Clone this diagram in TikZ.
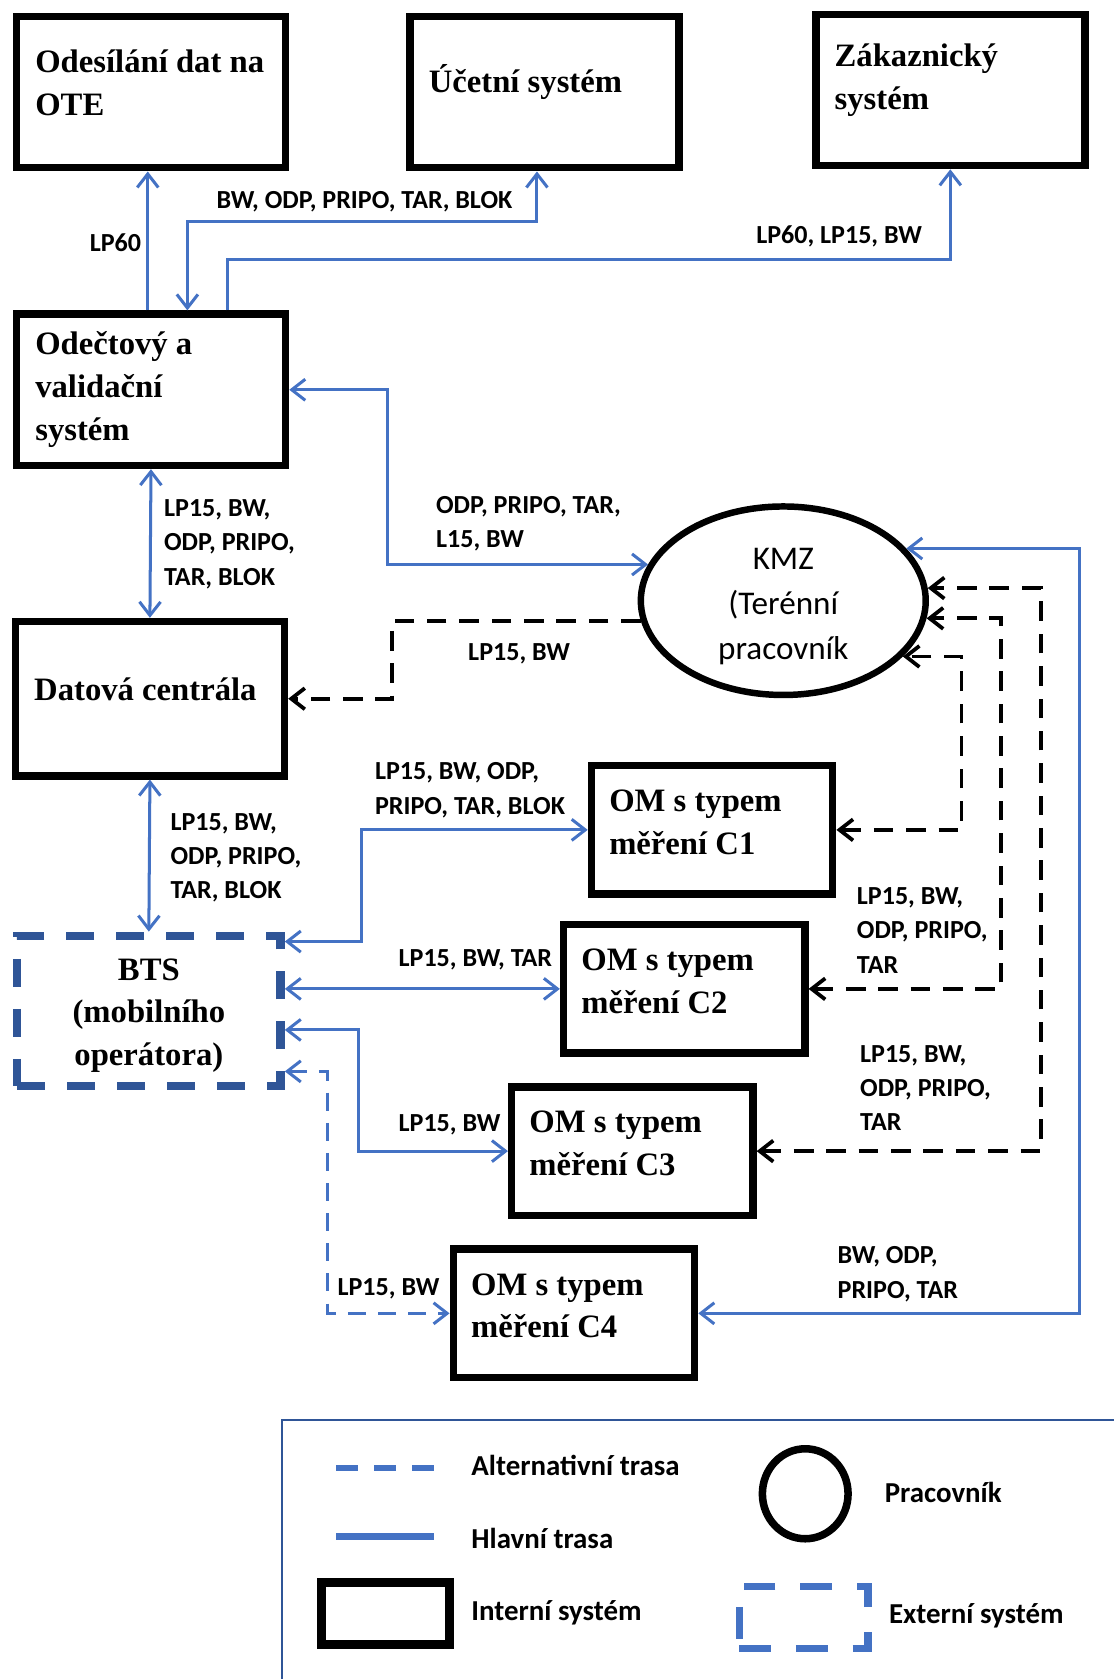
\documentclass[tikz,border=0pt]{standalone}
\usepackage{fontspec}
\setmainfont{Liberation Serif}
\newfontfamily\lblfont{Carlito}
\usepackage{tikz}
\usetikzlibrary{shapes.geometric,arrows.meta}
\definecolor{mainblue}{HTML}{4472C4}
\definecolor{extblue}{HTML}{2F5597}
\newcommand{\boxkern}[1]{\endgraf\kern#1\relax}
\newcommand{\topgap}[1]{\rule{0pt}{#1}}

\begin{document}
\begin{tikzpicture}[x=0.025cm,y=-0.025cm,
    >={Straight Barb[length=9pt,width=14pt]},
    sysbox/.style={draw,line width=5pt,align=flush left,inner xsep=0pt,
      font=\bfseries\fontsize{21.7pt}{28.5pt}\selectfont,
      execute at end node={\boxkern{#1}}},
    sysbox/.default=0.45cm,
    big/.style={minimum width=6.28cm,minimum height=3.53cm,text width=5.4cm},
    om/.style={minimum width=5.63cm,minimum height=3cm,text width=4.8cm},
    main/.style={draw=mainblue,line width=2pt},
    alt/.style={main,dash pattern=on 12pt off 8pt},
    field/.style={draw=black,line width=2.5pt,dash pattern=on 13pt off 8.5pt},
    lbl/.style={inner sep=0pt,anchor=west,align=left,
      font=\lblfont\bfseries\fontsize{17.3pt}{22.8pt}\selectfont},
    keytxt/.style={inner sep=0pt,anchor=west,
      font=\lblfont\bfseries\fontsize{19.2pt}{23pt}\selectfont}]
  \useasboundingbox (0,0) rectangle (1040,1568);

  % systems
  \node[sysbox,big] (ote) at (141,86) {Odesílání~dat~na\\OTE};
  \node[sysbox,big] (ucet) at (508.5,86) {Účetní systém};
  \node[sysbox,big] (zak) at (887.5,84) {Zákaznický\\systém};
  \node[sysbox=0pt,big] (odv) at (141,364) {Odečtový a\\validační\\systém};
  \node[sysbox,big,minimum height=3.6cm] (dc) at (140,652.5) {Datová centrála};
  \node[sysbox=0.35cm,om] (c1) at (665,775) {OM s typem\\měření C1};
  \node[sysbox=0.35cm,om] (c2) at (639,923.5) {OM s typem\\měření C2};
  \node[sysbox=0.35cm,om] (c3) at (590.5,1075) {OM s typem\\měření C3};
  \node[sysbox=0.35cm,om] (c4) at (536,1226.5) {OM s typem\\měření C4};
  \node[draw=extblue,line width=5.6pt,dash pattern=on 18.6pt off 14.6pt,
    minimum width=6.15cm,minimum height=3.5cm,align=center,
    font=\bfseries\fontsize{21.7pt}{28.2pt}\selectfont] (bts) at (139,944)
    {\topgap{20.5pt}BTS\\(mobilního\\operátora)};
  \node[ellipse,draw,line width=4.3pt,minimum width=6.65cm,minimum height=4.4cm,
    inner sep=0pt,align=center,font=\lblfont\fontsize{22pt}{29.9pt}\selectfont]
    (kmz) at (731.5,561) {\topgap{21.5pt}KMZ\\(Terénní\\pracovník};

  % bend columns
  \coordinate (colL) at (138,0);
  \coordinate (colU) at (175,207);
  \coordinate (colZ) at (212,242);
  \coordinate (colK) at (362,0);
  \coordinate (colD) at (366,0);
  \coordinate (colB1) at (338,0);
  \coordinate (colB3) at (335,0);
  \coordinate (colB4) at (306,0);
  \coordinate (col1) at (898,0);
  \coordinate (col2) at (935,0);
  \coordinate (col3) at (972,0);
  \coordinate (colR) at (1008,0);

  % connectors
  \draw[main,->] (odv.north -| colL) -- (ote.south -| colL);
  \draw[main,<->] (odv.north -| colU) -- (colU) -| ([xshift=-5pt]ucet.south);
  \draw[main,->] (odv.north -| colZ) -- (colZ) -| (zak.south);
  \draw[main,<->] (odv.east) -- (odv.east -| colK) |- (kmz.165);
  \draw[main,<->] (odv.south) -- (dc.north);
  \draw[field,->] (kmz.188) -- (kmz.188 -| colD) |- (dc.east);
  \draw[main,<->] (dc.south) -- (bts.north);
  \draw[main,<->] (c1.west) -- (c1.west -| colB1) |- (bts.27.5);
  \draw[main,<->] (bts.east |- c2.west) -- (c2.west);
  \draw[main,<->] (bts.-8) -- (bts.-8 -| colB3) |- (c3.west);
  \draw[alt,<->] (bts.-24) -- (bts.-24 -| colB4) |- (c4.west);
  \draw[main,<->] (c4.east) -- (c4.east -| colR) |- (kmz.23);
  \draw[field,<->] (c1.east) -- (c1.east -| col1) |- (kmz.-25);
  \draw[field,<->] (c2.east) -- (c2.east -| col2) |- (kmz.-7);
  \draw[field,<->] (c3.east) -- (c3.east -| col3) |- (kmz.5);

  % labels
  \node[lbl,anchor=east] (l-ote) at (132,227) {LP60};
  \node[lbl] (l-ucet) at (202,188) {BW, ODP, PRIPO, TAR, BLOK};
  \node[lbl] (l-zak) at (706,221) {LP60, LP15, BW};
  \node[lbl] (l-kmz) at (407,489) {ODP, PRIPO, TAR,\\L15, BW};
  \node[lbl] (l-odv) at (153,508) {LP15, BW,\\ODP, PRIPO,\\TAR, BLOK};
  \node[lbl] (l-dc) at (437,611) {LP15, BW};
  \node[lbl] (l-bts) at (159,801) {LP15, BW,\\ODP, PRIPO,\\TAR, BLOK};
  \node[lbl] (l-c1) at (350,738) {LP15, BW, ODP,\\PRIPO, TAR, BLOK};
  \node[lbl] (l-c2) at (372,896) {LP15, BW, TAR};
  \node[lbl] (l-c3) at (372,1050) {LP15, BW};
  \node[lbl] (l-c4) at (315,1204) {LP15, BW};
  \node[lbl] (l-f12) at (800,869) {LP15, BW,\\ODP, PRIPO,\\TAR};
  \node[lbl] (l-f3) at (803,1016) {LP15, BW,\\ODP, PRIPO,\\TAR};
  \node[lbl] (l-r4) at (782,1190) {BW, ODP,\\PRIPO, TAR};

  % legend
  \draw[extblue,line width=1.4pt] (263,1568) -- (263,1326) -- (1040,1326);
  \draw[mainblue,line width=4.3pt,dash pattern=on 14.2pt off 11pt] (314,1371) -- (405,1371);
  \draw[mainblue,line width=4.3pt] (314,1435) -- (405,1435);
  \node[draw,line width=5.7pt,minimum width=3cm,minimum height=1.45cm] (key-int) at (360,1507) {};
  \node[ellipse,draw,line width=5pt,minimum width=2cm,minimum height=2.1cm] (key-kmz) at (752,1395) {};
  \node[draw=mainblue,line width=4.9pt,dash pattern=on 21pt off 16.6pt,
    minimum width=3cm,minimum height=1.45cm] (key-ext) at (750.5,1510.5) {};
  \node[keytxt] (t-alt) at (440,1369) {Alternativní trasa};
  \node[keytxt] (t-main) at (440,1437) {Hlavní trasa};
  \node[keytxt] (t-int) at (440,1506) {Interní systém};
  \node[keytxt] (t-kmz) at (826,1394) {Pracovník};
  \node[keytxt] (t-ext) at (830,1509) {Externí systém};
\end{tikzpicture}
\end{document}
